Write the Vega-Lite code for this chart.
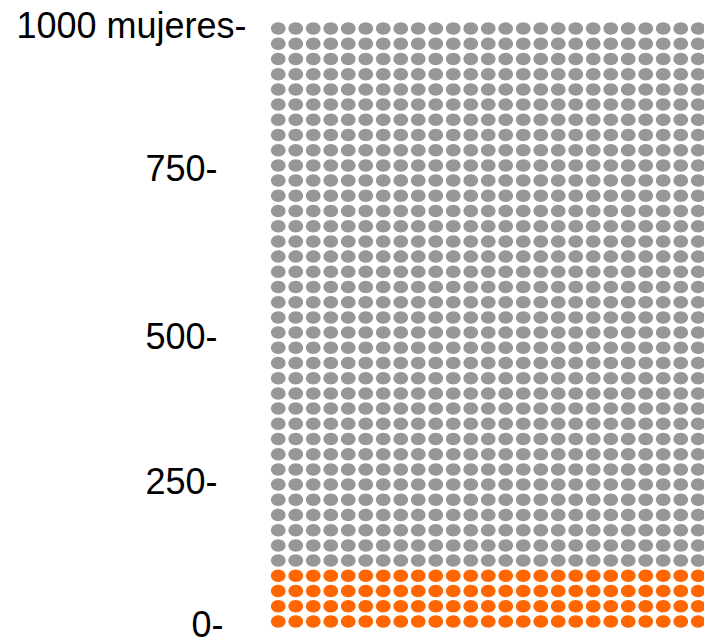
{
  "$schema": "https://vega.github.io/schema/vega-lite/v6.json",
  "autosize": "none",
  "padding": {"left": 269.5, "top": 21, "right": 0, "bottom": 10},
  "width": 434.5,
  "height": 608,
  "background": "white",
  "config": {"view": {"stroke": null}},
  "data": {"values": [
{"c":1,"r":1,"g":"si"},{"c":2,"r":1,"g":"si"},{"c":3,"r":1,"g":"si"},{"c":4,"r":1,"g":"si"},{"c":5,"r":1,"g":"si"},{"c":6,"r":1,"g":"si"},{"c":7,"r":1,"g":"si"},{"c":8,"r":1,"g":"si"},{"c":9,"r":1,"g":"si"},{"c":10,"r":1,"g":"si"},{"c":11,"r":1,"g":"si"},{"c":12,"r":1,"g":"si"},{"c":13,"r":1,"g":"si"},{"c":14,"r":1,"g":"si"},{"c":15,"r":1,"g":"si"},{"c":16,"r":1,"g":"si"},{"c":17,"r":1,"g":"si"},{"c":18,"r":1,"g":"si"},{"c":19,"r":1,"g":"si"},{"c":20,"r":1,"g":"si"},{"c":21,"r":1,"g":"si"},{"c":22,"r":1,"g":"si"},{"c":23,"r":1,"g":"si"},{"c":24,"r":1,"g":"si"},{"c":25,"r":1,"g":"si"},
{"c":1,"r":2,"g":"si"},{"c":2,"r":2,"g":"si"},{"c":3,"r":2,"g":"si"},{"c":4,"r":2,"g":"si"},{"c":5,"r":2,"g":"si"},{"c":6,"r":2,"g":"si"},{"c":7,"r":2,"g":"si"},{"c":8,"r":2,"g":"si"},{"c":9,"r":2,"g":"si"},{"c":10,"r":2,"g":"si"},{"c":11,"r":2,"g":"si"},{"c":12,"r":2,"g":"si"},{"c":13,"r":2,"g":"si"},{"c":14,"r":2,"g":"si"},{"c":15,"r":2,"g":"si"},{"c":16,"r":2,"g":"si"},{"c":17,"r":2,"g":"si"},{"c":18,"r":2,"g":"si"},{"c":19,"r":2,"g":"si"},{"c":20,"r":2,"g":"si"},{"c":21,"r":2,"g":"si"},{"c":22,"r":2,"g":"si"},{"c":23,"r":2,"g":"si"},{"c":24,"r":2,"g":"si"},{"c":25,"r":2,"g":"si"},
{"c":1,"r":3,"g":"si"},{"c":2,"r":3,"g":"si"},{"c":3,"r":3,"g":"si"},{"c":4,"r":3,"g":"si"},{"c":5,"r":3,"g":"si"},{"c":6,"r":3,"g":"si"},{"c":7,"r":3,"g":"si"},{"c":8,"r":3,"g":"si"},{"c":9,"r":3,"g":"si"},{"c":10,"r":3,"g":"si"},{"c":11,"r":3,"g":"si"},{"c":12,"r":3,"g":"si"},{"c":13,"r":3,"g":"si"},{"c":14,"r":3,"g":"si"},{"c":15,"r":3,"g":"si"},{"c":16,"r":3,"g":"si"},{"c":17,"r":3,"g":"si"},{"c":18,"r":3,"g":"si"},{"c":19,"r":3,"g":"si"},{"c":20,"r":3,"g":"si"},{"c":21,"r":3,"g":"si"},{"c":22,"r":3,"g":"si"},{"c":23,"r":3,"g":"si"},{"c":24,"r":3,"g":"si"},{"c":25,"r":3,"g":"si"},
{"c":1,"r":4,"g":"si"},{"c":2,"r":4,"g":"si"},{"c":3,"r":4,"g":"si"},{"c":4,"r":4,"g":"si"},{"c":5,"r":4,"g":"si"},{"c":6,"r":4,"g":"si"},{"c":7,"r":4,"g":"si"},{"c":8,"r":4,"g":"si"},{"c":9,"r":4,"g":"si"},{"c":10,"r":4,"g":"si"},{"c":11,"r":4,"g":"si"},{"c":12,"r":4,"g":"si"},{"c":13,"r":4,"g":"si"},{"c":14,"r":4,"g":"si"},{"c":15,"r":4,"g":"si"},{"c":16,"r":4,"g":"si"},{"c":17,"r":4,"g":"si"},{"c":18,"r":4,"g":"si"},{"c":19,"r":4,"g":"si"},{"c":20,"r":4,"g":"si"},{"c":21,"r":4,"g":"si"},{"c":22,"r":4,"g":"si"},{"c":23,"r":4,"g":"si"},{"c":24,"r":4,"g":"si"},{"c":25,"r":4,"g":"si"},
{"c":1,"r":5,"g":"no"},{"c":2,"r":5,"g":"no"},{"c":3,"r":5,"g":"no"},{"c":4,"r":5,"g":"no"},{"c":5,"r":5,"g":"no"},{"c":6,"r":5,"g":"no"},{"c":7,"r":5,"g":"no"},{"c":8,"r":5,"g":"no"},{"c":9,"r":5,"g":"no"},{"c":10,"r":5,"g":"no"},{"c":11,"r":5,"g":"no"},{"c":12,"r":5,"g":"no"},{"c":13,"r":5,"g":"no"},{"c":14,"r":5,"g":"no"},{"c":15,"r":5,"g":"no"},{"c":16,"r":5,"g":"no"},{"c":17,"r":5,"g":"no"},{"c":18,"r":5,"g":"no"},{"c":19,"r":5,"g":"no"},{"c":20,"r":5,"g":"no"},{"c":21,"r":5,"g":"no"},{"c":22,"r":5,"g":"no"},{"c":23,"r":5,"g":"no"},{"c":24,"r":5,"g":"no"},{"c":25,"r":5,"g":"no"},
{"c":1,"r":6,"g":"no"},{"c":2,"r":6,"g":"no"},{"c":3,"r":6,"g":"no"},{"c":4,"r":6,"g":"no"},{"c":5,"r":6,"g":"no"},{"c":6,"r":6,"g":"no"},{"c":7,"r":6,"g":"no"},{"c":8,"r":6,"g":"no"},{"c":9,"r":6,"g":"no"},{"c":10,"r":6,"g":"no"},{"c":11,"r":6,"g":"no"},{"c":12,"r":6,"g":"no"},{"c":13,"r":6,"g":"no"},{"c":14,"r":6,"g":"no"},{"c":15,"r":6,"g":"no"},{"c":16,"r":6,"g":"no"},{"c":17,"r":6,"g":"no"},{"c":18,"r":6,"g":"no"},{"c":19,"r":6,"g":"no"},{"c":20,"r":6,"g":"no"},{"c":21,"r":6,"g":"no"},{"c":22,"r":6,"g":"no"},{"c":23,"r":6,"g":"no"},{"c":24,"r":6,"g":"no"},{"c":25,"r":6,"g":"no"},
{"c":1,"r":7,"g":"no"},{"c":2,"r":7,"g":"no"},{"c":3,"r":7,"g":"no"},{"c":4,"r":7,"g":"no"},{"c":5,"r":7,"g":"no"},{"c":6,"r":7,"g":"no"},{"c":7,"r":7,"g":"no"},{"c":8,"r":7,"g":"no"},{"c":9,"r":7,"g":"no"},{"c":10,"r":7,"g":"no"},{"c":11,"r":7,"g":"no"},{"c":12,"r":7,"g":"no"},{"c":13,"r":7,"g":"no"},{"c":14,"r":7,"g":"no"},{"c":15,"r":7,"g":"no"},{"c":16,"r":7,"g":"no"},{"c":17,"r":7,"g":"no"},{"c":18,"r":7,"g":"no"},{"c":19,"r":7,"g":"no"},{"c":20,"r":7,"g":"no"},{"c":21,"r":7,"g":"no"},{"c":22,"r":7,"g":"no"},{"c":23,"r":7,"g":"no"},{"c":24,"r":7,"g":"no"},{"c":25,"r":7,"g":"no"},
{"c":1,"r":8,"g":"no"},{"c":2,"r":8,"g":"no"},{"c":3,"r":8,"g":"no"},{"c":4,"r":8,"g":"no"},{"c":5,"r":8,"g":"no"},{"c":6,"r":8,"g":"no"},{"c":7,"r":8,"g":"no"},{"c":8,"r":8,"g":"no"},{"c":9,"r":8,"g":"no"},{"c":10,"r":8,"g":"no"},{"c":11,"r":8,"g":"no"},{"c":12,"r":8,"g":"no"},{"c":13,"r":8,"g":"no"},{"c":14,"r":8,"g":"no"},{"c":15,"r":8,"g":"no"},{"c":16,"r":8,"g":"no"},{"c":17,"r":8,"g":"no"},{"c":18,"r":8,"g":"no"},{"c":19,"r":8,"g":"no"},{"c":20,"r":8,"g":"no"},{"c":21,"r":8,"g":"no"},{"c":22,"r":8,"g":"no"},{"c":23,"r":8,"g":"no"},{"c":24,"r":8,"g":"no"},{"c":25,"r":8,"g":"no"},
{"c":1,"r":9,"g":"no"},{"c":2,"r":9,"g":"no"},{"c":3,"r":9,"g":"no"},{"c":4,"r":9,"g":"no"},{"c":5,"r":9,"g":"no"},{"c":6,"r":9,"g":"no"},{"c":7,"r":9,"g":"no"},{"c":8,"r":9,"g":"no"},{"c":9,"r":9,"g":"no"},{"c":10,"r":9,"g":"no"},{"c":11,"r":9,"g":"no"},{"c":12,"r":9,"g":"no"},{"c":13,"r":9,"g":"no"},{"c":14,"r":9,"g":"no"},{"c":15,"r":9,"g":"no"},{"c":16,"r":9,"g":"no"},{"c":17,"r":9,"g":"no"},{"c":18,"r":9,"g":"no"},{"c":19,"r":9,"g":"no"},{"c":20,"r":9,"g":"no"},{"c":21,"r":9,"g":"no"},{"c":22,"r":9,"g":"no"},{"c":23,"r":9,"g":"no"},{"c":24,"r":9,"g":"no"},{"c":25,"r":9,"g":"no"},
{"c":1,"r":10,"g":"no"},{"c":2,"r":10,"g":"no"},{"c":3,"r":10,"g":"no"},{"c":4,"r":10,"g":"no"},{"c":5,"r":10,"g":"no"},{"c":6,"r":10,"g":"no"},{"c":7,"r":10,"g":"no"},{"c":8,"r":10,"g":"no"},{"c":9,"r":10,"g":"no"},{"c":10,"r":10,"g":"no"},{"c":11,"r":10,"g":"no"},{"c":12,"r":10,"g":"no"},{"c":13,"r":10,"g":"no"},{"c":14,"r":10,"g":"no"},{"c":15,"r":10,"g":"no"},{"c":16,"r":10,"g":"no"},{"c":17,"r":10,"g":"no"},{"c":18,"r":10,"g":"no"},{"c":19,"r":10,"g":"no"},{"c":20,"r":10,"g":"no"},{"c":21,"r":10,"g":"no"},{"c":22,"r":10,"g":"no"},{"c":23,"r":10,"g":"no"},{"c":24,"r":10,"g":"no"},{"c":25,"r":10,"g":"no"},
{"c":1,"r":11,"g":"no"},{"c":2,"r":11,"g":"no"},{"c":3,"r":11,"g":"no"},{"c":4,"r":11,"g":"no"},{"c":5,"r":11,"g":"no"},{"c":6,"r":11,"g":"no"},{"c":7,"r":11,"g":"no"},{"c":8,"r":11,"g":"no"},{"c":9,"r":11,"g":"no"},{"c":10,"r":11,"g":"no"},{"c":11,"r":11,"g":"no"},{"c":12,"r":11,"g":"no"},{"c":13,"r":11,"g":"no"},{"c":14,"r":11,"g":"no"},{"c":15,"r":11,"g":"no"},{"c":16,"r":11,"g":"no"},{"c":17,"r":11,"g":"no"},{"c":18,"r":11,"g":"no"},{"c":19,"r":11,"g":"no"},{"c":20,"r":11,"g":"no"},{"c":21,"r":11,"g":"no"},{"c":22,"r":11,"g":"no"},{"c":23,"r":11,"g":"no"},{"c":24,"r":11,"g":"no"},{"c":25,"r":11,"g":"no"},
{"c":1,"r":12,"g":"no"},{"c":2,"r":12,"g":"no"},{"c":3,"r":12,"g":"no"},{"c":4,"r":12,"g":"no"},{"c":5,"r":12,"g":"no"},{"c":6,"r":12,"g":"no"},{"c":7,"r":12,"g":"no"},{"c":8,"r":12,"g":"no"},{"c":9,"r":12,"g":"no"},{"c":10,"r":12,"g":"no"},{"c":11,"r":12,"g":"no"},{"c":12,"r":12,"g":"no"},{"c":13,"r":12,"g":"no"},{"c":14,"r":12,"g":"no"},{"c":15,"r":12,"g":"no"},{"c":16,"r":12,"g":"no"},{"c":17,"r":12,"g":"no"},{"c":18,"r":12,"g":"no"},{"c":19,"r":12,"g":"no"},{"c":20,"r":12,"g":"no"},{"c":21,"r":12,"g":"no"},{"c":22,"r":12,"g":"no"},{"c":23,"r":12,"g":"no"},{"c":24,"r":12,"g":"no"},{"c":25,"r":12,"g":"no"},
{"c":1,"r":13,"g":"no"},{"c":2,"r":13,"g":"no"},{"c":3,"r":13,"g":"no"},{"c":4,"r":13,"g":"no"},{"c":5,"r":13,"g":"no"},{"c":6,"r":13,"g":"no"},{"c":7,"r":13,"g":"no"},{"c":8,"r":13,"g":"no"},{"c":9,"r":13,"g":"no"},{"c":10,"r":13,"g":"no"},{"c":11,"r":13,"g":"no"},{"c":12,"r":13,"g":"no"},{"c":13,"r":13,"g":"no"},{"c":14,"r":13,"g":"no"},{"c":15,"r":13,"g":"no"},{"c":16,"r":13,"g":"no"},{"c":17,"r":13,"g":"no"},{"c":18,"r":13,"g":"no"},{"c":19,"r":13,"g":"no"},{"c":20,"r":13,"g":"no"},{"c":21,"r":13,"g":"no"},{"c":22,"r":13,"g":"no"},{"c":23,"r":13,"g":"no"},{"c":24,"r":13,"g":"no"},{"c":25,"r":13,"g":"no"},
{"c":1,"r":14,"g":"no"},{"c":2,"r":14,"g":"no"},{"c":3,"r":14,"g":"no"},{"c":4,"r":14,"g":"no"},{"c":5,"r":14,"g":"no"},{"c":6,"r":14,"g":"no"},{"c":7,"r":14,"g":"no"},{"c":8,"r":14,"g":"no"},{"c":9,"r":14,"g":"no"},{"c":10,"r":14,"g":"no"},{"c":11,"r":14,"g":"no"},{"c":12,"r":14,"g":"no"},{"c":13,"r":14,"g":"no"},{"c":14,"r":14,"g":"no"},{"c":15,"r":14,"g":"no"},{"c":16,"r":14,"g":"no"},{"c":17,"r":14,"g":"no"},{"c":18,"r":14,"g":"no"},{"c":19,"r":14,"g":"no"},{"c":20,"r":14,"g":"no"},{"c":21,"r":14,"g":"no"},{"c":22,"r":14,"g":"no"},{"c":23,"r":14,"g":"no"},{"c":24,"r":14,"g":"no"},{"c":25,"r":14,"g":"no"},
{"c":1,"r":15,"g":"no"},{"c":2,"r":15,"g":"no"},{"c":3,"r":15,"g":"no"},{"c":4,"r":15,"g":"no"},{"c":5,"r":15,"g":"no"},{"c":6,"r":15,"g":"no"},{"c":7,"r":15,"g":"no"},{"c":8,"r":15,"g":"no"},{"c":9,"r":15,"g":"no"},{"c":10,"r":15,"g":"no"},{"c":11,"r":15,"g":"no"},{"c":12,"r":15,"g":"no"},{"c":13,"r":15,"g":"no"},{"c":14,"r":15,"g":"no"},{"c":15,"r":15,"g":"no"},{"c":16,"r":15,"g":"no"},{"c":17,"r":15,"g":"no"},{"c":18,"r":15,"g":"no"},{"c":19,"r":15,"g":"no"},{"c":20,"r":15,"g":"no"},{"c":21,"r":15,"g":"no"},{"c":22,"r":15,"g":"no"},{"c":23,"r":15,"g":"no"},{"c":24,"r":15,"g":"no"},{"c":25,"r":15,"g":"no"},
{"c":1,"r":16,"g":"no"},{"c":2,"r":16,"g":"no"},{"c":3,"r":16,"g":"no"},{"c":4,"r":16,"g":"no"},{"c":5,"r":16,"g":"no"},{"c":6,"r":16,"g":"no"},{"c":7,"r":16,"g":"no"},{"c":8,"r":16,"g":"no"},{"c":9,"r":16,"g":"no"},{"c":10,"r":16,"g":"no"},{"c":11,"r":16,"g":"no"},{"c":12,"r":16,"g":"no"},{"c":13,"r":16,"g":"no"},{"c":14,"r":16,"g":"no"},{"c":15,"r":16,"g":"no"},{"c":16,"r":16,"g":"no"},{"c":17,"r":16,"g":"no"},{"c":18,"r":16,"g":"no"},{"c":19,"r":16,"g":"no"},{"c":20,"r":16,"g":"no"},{"c":21,"r":16,"g":"no"},{"c":22,"r":16,"g":"no"},{"c":23,"r":16,"g":"no"},{"c":24,"r":16,"g":"no"},{"c":25,"r":16,"g":"no"},
{"c":1,"r":17,"g":"no"},{"c":2,"r":17,"g":"no"},{"c":3,"r":17,"g":"no"},{"c":4,"r":17,"g":"no"},{"c":5,"r":17,"g":"no"},{"c":6,"r":17,"g":"no"},{"c":7,"r":17,"g":"no"},{"c":8,"r":17,"g":"no"},{"c":9,"r":17,"g":"no"},{"c":10,"r":17,"g":"no"},{"c":11,"r":17,"g":"no"},{"c":12,"r":17,"g":"no"},{"c":13,"r":17,"g":"no"},{"c":14,"r":17,"g":"no"},{"c":15,"r":17,"g":"no"},{"c":16,"r":17,"g":"no"},{"c":17,"r":17,"g":"no"},{"c":18,"r":17,"g":"no"},{"c":19,"r":17,"g":"no"},{"c":20,"r":17,"g":"no"},{"c":21,"r":17,"g":"no"},{"c":22,"r":17,"g":"no"},{"c":23,"r":17,"g":"no"},{"c":24,"r":17,"g":"no"},{"c":25,"r":17,"g":"no"},
{"c":1,"r":18,"g":"no"},{"c":2,"r":18,"g":"no"},{"c":3,"r":18,"g":"no"},{"c":4,"r":18,"g":"no"},{"c":5,"r":18,"g":"no"},{"c":6,"r":18,"g":"no"},{"c":7,"r":18,"g":"no"},{"c":8,"r":18,"g":"no"},{"c":9,"r":18,"g":"no"},{"c":10,"r":18,"g":"no"},{"c":11,"r":18,"g":"no"},{"c":12,"r":18,"g":"no"},{"c":13,"r":18,"g":"no"},{"c":14,"r":18,"g":"no"},{"c":15,"r":18,"g":"no"},{"c":16,"r":18,"g":"no"},{"c":17,"r":18,"g":"no"},{"c":18,"r":18,"g":"no"},{"c":19,"r":18,"g":"no"},{"c":20,"r":18,"g":"no"},{"c":21,"r":18,"g":"no"},{"c":22,"r":18,"g":"no"},{"c":23,"r":18,"g":"no"},{"c":24,"r":18,"g":"no"},{"c":25,"r":18,"g":"no"},
{"c":1,"r":19,"g":"no"},{"c":2,"r":19,"g":"no"},{"c":3,"r":19,"g":"no"},{"c":4,"r":19,"g":"no"},{"c":5,"r":19,"g":"no"},{"c":6,"r":19,"g":"no"},{"c":7,"r":19,"g":"no"},{"c":8,"r":19,"g":"no"},{"c":9,"r":19,"g":"no"},{"c":10,"r":19,"g":"no"},{"c":11,"r":19,"g":"no"},{"c":12,"r":19,"g":"no"},{"c":13,"r":19,"g":"no"},{"c":14,"r":19,"g":"no"},{"c":15,"r":19,"g":"no"},{"c":16,"r":19,"g":"no"},{"c":17,"r":19,"g":"no"},{"c":18,"r":19,"g":"no"},{"c":19,"r":19,"g":"no"},{"c":20,"r":19,"g":"no"},{"c":21,"r":19,"g":"no"},{"c":22,"r":19,"g":"no"},{"c":23,"r":19,"g":"no"},{"c":24,"r":19,"g":"no"},{"c":25,"r":19,"g":"no"},
{"c":1,"r":20,"g":"no"},{"c":2,"r":20,"g":"no"},{"c":3,"r":20,"g":"no"},{"c":4,"r":20,"g":"no"},{"c":5,"r":20,"g":"no"},{"c":6,"r":20,"g":"no"},{"c":7,"r":20,"g":"no"},{"c":8,"r":20,"g":"no"},{"c":9,"r":20,"g":"no"},{"c":10,"r":20,"g":"no"},{"c":11,"r":20,"g":"no"},{"c":12,"r":20,"g":"no"},{"c":13,"r":20,"g":"no"},{"c":14,"r":20,"g":"no"},{"c":15,"r":20,"g":"no"},{"c":16,"r":20,"g":"no"},{"c":17,"r":20,"g":"no"},{"c":18,"r":20,"g":"no"},{"c":19,"r":20,"g":"no"},{"c":20,"r":20,"g":"no"},{"c":21,"r":20,"g":"no"},{"c":22,"r":20,"g":"no"},{"c":23,"r":20,"g":"no"},{"c":24,"r":20,"g":"no"},{"c":25,"r":20,"g":"no"},
{"c":1,"r":21,"g":"no"},{"c":2,"r":21,"g":"no"},{"c":3,"r":21,"g":"no"},{"c":4,"r":21,"g":"no"},{"c":5,"r":21,"g":"no"},{"c":6,"r":21,"g":"no"},{"c":7,"r":21,"g":"no"},{"c":8,"r":21,"g":"no"},{"c":9,"r":21,"g":"no"},{"c":10,"r":21,"g":"no"},{"c":11,"r":21,"g":"no"},{"c":12,"r":21,"g":"no"},{"c":13,"r":21,"g":"no"},{"c":14,"r":21,"g":"no"},{"c":15,"r":21,"g":"no"},{"c":16,"r":21,"g":"no"},{"c":17,"r":21,"g":"no"},{"c":18,"r":21,"g":"no"},{"c":19,"r":21,"g":"no"},{"c":20,"r":21,"g":"no"},{"c":21,"r":21,"g":"no"},{"c":22,"r":21,"g":"no"},{"c":23,"r":21,"g":"no"},{"c":24,"r":21,"g":"no"},{"c":25,"r":21,"g":"no"},
{"c":1,"r":22,"g":"no"},{"c":2,"r":22,"g":"no"},{"c":3,"r":22,"g":"no"},{"c":4,"r":22,"g":"no"},{"c":5,"r":22,"g":"no"},{"c":6,"r":22,"g":"no"},{"c":7,"r":22,"g":"no"},{"c":8,"r":22,"g":"no"},{"c":9,"r":22,"g":"no"},{"c":10,"r":22,"g":"no"},{"c":11,"r":22,"g":"no"},{"c":12,"r":22,"g":"no"},{"c":13,"r":22,"g":"no"},{"c":14,"r":22,"g":"no"},{"c":15,"r":22,"g":"no"},{"c":16,"r":22,"g":"no"},{"c":17,"r":22,"g":"no"},{"c":18,"r":22,"g":"no"},{"c":19,"r":22,"g":"no"},{"c":20,"r":22,"g":"no"},{"c":21,"r":22,"g":"no"},{"c":22,"r":22,"g":"no"},{"c":23,"r":22,"g":"no"},{"c":24,"r":22,"g":"no"},{"c":25,"r":22,"g":"no"},
{"c":1,"r":23,"g":"no"},{"c":2,"r":23,"g":"no"},{"c":3,"r":23,"g":"no"},{"c":4,"r":23,"g":"no"},{"c":5,"r":23,"g":"no"},{"c":6,"r":23,"g":"no"},{"c":7,"r":23,"g":"no"},{"c":8,"r":23,"g":"no"},{"c":9,"r":23,"g":"no"},{"c":10,"r":23,"g":"no"},{"c":11,"r":23,"g":"no"},{"c":12,"r":23,"g":"no"},{"c":13,"r":23,"g":"no"},{"c":14,"r":23,"g":"no"},{"c":15,"r":23,"g":"no"},{"c":16,"r":23,"g":"no"},{"c":17,"r":23,"g":"no"},{"c":18,"r":23,"g":"no"},{"c":19,"r":23,"g":"no"},{"c":20,"r":23,"g":"no"},{"c":21,"r":23,"g":"no"},{"c":22,"r":23,"g":"no"},{"c":23,"r":23,"g":"no"},{"c":24,"r":23,"g":"no"},{"c":25,"r":23,"g":"no"},
{"c":1,"r":24,"g":"no"},{"c":2,"r":24,"g":"no"},{"c":3,"r":24,"g":"no"},{"c":4,"r":24,"g":"no"},{"c":5,"r":24,"g":"no"},{"c":6,"r":24,"g":"no"},{"c":7,"r":24,"g":"no"},{"c":8,"r":24,"g":"no"},{"c":9,"r":24,"g":"no"},{"c":10,"r":24,"g":"no"},{"c":11,"r":24,"g":"no"},{"c":12,"r":24,"g":"no"},{"c":13,"r":24,"g":"no"},{"c":14,"r":24,"g":"no"},{"c":15,"r":24,"g":"no"},{"c":16,"r":24,"g":"no"},{"c":17,"r":24,"g":"no"},{"c":18,"r":24,"g":"no"},{"c":19,"r":24,"g":"no"},{"c":20,"r":24,"g":"no"},{"c":21,"r":24,"g":"no"},{"c":22,"r":24,"g":"no"},{"c":23,"r":24,"g":"no"},{"c":24,"r":24,"g":"no"},{"c":25,"r":24,"g":"no"},
{"c":1,"r":25,"g":"no"},{"c":2,"r":25,"g":"no"},{"c":3,"r":25,"g":"no"},{"c":4,"r":25,"g":"no"},{"c":5,"r":25,"g":"no"},{"c":6,"r":25,"g":"no"},{"c":7,"r":25,"g":"no"},{"c":8,"r":25,"g":"no"},{"c":9,"r":25,"g":"no"},{"c":10,"r":25,"g":"no"},{"c":11,"r":25,"g":"no"},{"c":12,"r":25,"g":"no"},{"c":13,"r":25,"g":"no"},{"c":14,"r":25,"g":"no"},{"c":15,"r":25,"g":"no"},{"c":16,"r":25,"g":"no"},{"c":17,"r":25,"g":"no"},{"c":18,"r":25,"g":"no"},{"c":19,"r":25,"g":"no"},{"c":20,"r":25,"g":"no"},{"c":21,"r":25,"g":"no"},{"c":22,"r":25,"g":"no"},{"c":23,"r":25,"g":"no"},{"c":24,"r":25,"g":"no"},{"c":25,"r":25,"g":"no"},
{"c":1,"r":26,"g":"no"},{"c":2,"r":26,"g":"no"},{"c":3,"r":26,"g":"no"},{"c":4,"r":26,"g":"no"},{"c":5,"r":26,"g":"no"},{"c":6,"r":26,"g":"no"},{"c":7,"r":26,"g":"no"},{"c":8,"r":26,"g":"no"},{"c":9,"r":26,"g":"no"},{"c":10,"r":26,"g":"no"},{"c":11,"r":26,"g":"no"},{"c":12,"r":26,"g":"no"},{"c":13,"r":26,"g":"no"},{"c":14,"r":26,"g":"no"},{"c":15,"r":26,"g":"no"},{"c":16,"r":26,"g":"no"},{"c":17,"r":26,"g":"no"},{"c":18,"r":26,"g":"no"},{"c":19,"r":26,"g":"no"},{"c":20,"r":26,"g":"no"},{"c":21,"r":26,"g":"no"},{"c":22,"r":26,"g":"no"},{"c":23,"r":26,"g":"no"},{"c":24,"r":26,"g":"no"},{"c":25,"r":26,"g":"no"},
{"c":1,"r":27,"g":"no"},{"c":2,"r":27,"g":"no"},{"c":3,"r":27,"g":"no"},{"c":4,"r":27,"g":"no"},{"c":5,"r":27,"g":"no"},{"c":6,"r":27,"g":"no"},{"c":7,"r":27,"g":"no"},{"c":8,"r":27,"g":"no"},{"c":9,"r":27,"g":"no"},{"c":10,"r":27,"g":"no"},{"c":11,"r":27,"g":"no"},{"c":12,"r":27,"g":"no"},{"c":13,"r":27,"g":"no"},{"c":14,"r":27,"g":"no"},{"c":15,"r":27,"g":"no"},{"c":16,"r":27,"g":"no"},{"c":17,"r":27,"g":"no"},{"c":18,"r":27,"g":"no"},{"c":19,"r":27,"g":"no"},{"c":20,"r":27,"g":"no"},{"c":21,"r":27,"g":"no"},{"c":22,"r":27,"g":"no"},{"c":23,"r":27,"g":"no"},{"c":24,"r":27,"g":"no"},{"c":25,"r":27,"g":"no"},
{"c":1,"r":28,"g":"no"},{"c":2,"r":28,"g":"no"},{"c":3,"r":28,"g":"no"},{"c":4,"r":28,"g":"no"},{"c":5,"r":28,"g":"no"},{"c":6,"r":28,"g":"no"},{"c":7,"r":28,"g":"no"},{"c":8,"r":28,"g":"no"},{"c":9,"r":28,"g":"no"},{"c":10,"r":28,"g":"no"},{"c":11,"r":28,"g":"no"},{"c":12,"r":28,"g":"no"},{"c":13,"r":28,"g":"no"},{"c":14,"r":28,"g":"no"},{"c":15,"r":28,"g":"no"},{"c":16,"r":28,"g":"no"},{"c":17,"r":28,"g":"no"},{"c":18,"r":28,"g":"no"},{"c":19,"r":28,"g":"no"},{"c":20,"r":28,"g":"no"},{"c":21,"r":28,"g":"no"},{"c":22,"r":28,"g":"no"},{"c":23,"r":28,"g":"no"},{"c":24,"r":28,"g":"no"},{"c":25,"r":28,"g":"no"},
{"c":1,"r":29,"g":"no"},{"c":2,"r":29,"g":"no"},{"c":3,"r":29,"g":"no"},{"c":4,"r":29,"g":"no"},{"c":5,"r":29,"g":"no"},{"c":6,"r":29,"g":"no"},{"c":7,"r":29,"g":"no"},{"c":8,"r":29,"g":"no"},{"c":9,"r":29,"g":"no"},{"c":10,"r":29,"g":"no"},{"c":11,"r":29,"g":"no"},{"c":12,"r":29,"g":"no"},{"c":13,"r":29,"g":"no"},{"c":14,"r":29,"g":"no"},{"c":15,"r":29,"g":"no"},{"c":16,"r":29,"g":"no"},{"c":17,"r":29,"g":"no"},{"c":18,"r":29,"g":"no"},{"c":19,"r":29,"g":"no"},{"c":20,"r":29,"g":"no"},{"c":21,"r":29,"g":"no"},{"c":22,"r":29,"g":"no"},{"c":23,"r":29,"g":"no"},{"c":24,"r":29,"g":"no"},{"c":25,"r":29,"g":"no"},
{"c":1,"r":30,"g":"no"},{"c":2,"r":30,"g":"no"},{"c":3,"r":30,"g":"no"},{"c":4,"r":30,"g":"no"},{"c":5,"r":30,"g":"no"},{"c":6,"r":30,"g":"no"},{"c":7,"r":30,"g":"no"},{"c":8,"r":30,"g":"no"},{"c":9,"r":30,"g":"no"},{"c":10,"r":30,"g":"no"},{"c":11,"r":30,"g":"no"},{"c":12,"r":30,"g":"no"},{"c":13,"r":30,"g":"no"},{"c":14,"r":30,"g":"no"},{"c":15,"r":30,"g":"no"},{"c":16,"r":30,"g":"no"},{"c":17,"r":30,"g":"no"},{"c":18,"r":30,"g":"no"},{"c":19,"r":30,"g":"no"},{"c":20,"r":30,"g":"no"},{"c":21,"r":30,"g":"no"},{"c":22,"r":30,"g":"no"},{"c":23,"r":30,"g":"no"},{"c":24,"r":30,"g":"no"},{"c":25,"r":30,"g":"no"},
{"c":1,"r":31,"g":"no"},{"c":2,"r":31,"g":"no"},{"c":3,"r":31,"g":"no"},{"c":4,"r":31,"g":"no"},{"c":5,"r":31,"g":"no"},{"c":6,"r":31,"g":"no"},{"c":7,"r":31,"g":"no"},{"c":8,"r":31,"g":"no"},{"c":9,"r":31,"g":"no"},{"c":10,"r":31,"g":"no"},{"c":11,"r":31,"g":"no"},{"c":12,"r":31,"g":"no"},{"c":13,"r":31,"g":"no"},{"c":14,"r":31,"g":"no"},{"c":15,"r":31,"g":"no"},{"c":16,"r":31,"g":"no"},{"c":17,"r":31,"g":"no"},{"c":18,"r":31,"g":"no"},{"c":19,"r":31,"g":"no"},{"c":20,"r":31,"g":"no"},{"c":21,"r":31,"g":"no"},{"c":22,"r":31,"g":"no"},{"c":23,"r":31,"g":"no"},{"c":24,"r":31,"g":"no"},{"c":25,"r":31,"g":"no"},
{"c":1,"r":32,"g":"no"},{"c":2,"r":32,"g":"no"},{"c":3,"r":32,"g":"no"},{"c":4,"r":32,"g":"no"},{"c":5,"r":32,"g":"no"},{"c":6,"r":32,"g":"no"},{"c":7,"r":32,"g":"no"},{"c":8,"r":32,"g":"no"},{"c":9,"r":32,"g":"no"},{"c":10,"r":32,"g":"no"},{"c":11,"r":32,"g":"no"},{"c":12,"r":32,"g":"no"},{"c":13,"r":32,"g":"no"},{"c":14,"r":32,"g":"no"},{"c":15,"r":32,"g":"no"},{"c":16,"r":32,"g":"no"},{"c":17,"r":32,"g":"no"},{"c":18,"r":32,"g":"no"},{"c":19,"r":32,"g":"no"},{"c":20,"r":32,"g":"no"},{"c":21,"r":32,"g":"no"},{"c":22,"r":32,"g":"no"},{"c":23,"r":32,"g":"no"},{"c":24,"r":32,"g":"no"},{"c":25,"r":32,"g":"no"},
{"c":1,"r":33,"g":"no"},{"c":2,"r":33,"g":"no"},{"c":3,"r":33,"g":"no"},{"c":4,"r":33,"g":"no"},{"c":5,"r":33,"g":"no"},{"c":6,"r":33,"g":"no"},{"c":7,"r":33,"g":"no"},{"c":8,"r":33,"g":"no"},{"c":9,"r":33,"g":"no"},{"c":10,"r":33,"g":"no"},{"c":11,"r":33,"g":"no"},{"c":12,"r":33,"g":"no"},{"c":13,"r":33,"g":"no"},{"c":14,"r":33,"g":"no"},{"c":15,"r":33,"g":"no"},{"c":16,"r":33,"g":"no"},{"c":17,"r":33,"g":"no"},{"c":18,"r":33,"g":"no"},{"c":19,"r":33,"g":"no"},{"c":20,"r":33,"g":"no"},{"c":21,"r":33,"g":"no"},{"c":22,"r":33,"g":"no"},{"c":23,"r":33,"g":"no"},{"c":24,"r":33,"g":"no"},{"c":25,"r":33,"g":"no"},
{"c":1,"r":34,"g":"no"},{"c":2,"r":34,"g":"no"},{"c":3,"r":34,"g":"no"},{"c":4,"r":34,"g":"no"},{"c":5,"r":34,"g":"no"},{"c":6,"r":34,"g":"no"},{"c":7,"r":34,"g":"no"},{"c":8,"r":34,"g":"no"},{"c":9,"r":34,"g":"no"},{"c":10,"r":34,"g":"no"},{"c":11,"r":34,"g":"no"},{"c":12,"r":34,"g":"no"},{"c":13,"r":34,"g":"no"},{"c":14,"r":34,"g":"no"},{"c":15,"r":34,"g":"no"},{"c":16,"r":34,"g":"no"},{"c":17,"r":34,"g":"no"},{"c":18,"r":34,"g":"no"},{"c":19,"r":34,"g":"no"},{"c":20,"r":34,"g":"no"},{"c":21,"r":34,"g":"no"},{"c":22,"r":34,"g":"no"},{"c":23,"r":34,"g":"no"},{"c":24,"r":34,"g":"no"},{"c":25,"r":34,"g":"no"},
{"c":1,"r":35,"g":"no"},{"c":2,"r":35,"g":"no"},{"c":3,"r":35,"g":"no"},{"c":4,"r":35,"g":"no"},{"c":5,"r":35,"g":"no"},{"c":6,"r":35,"g":"no"},{"c":7,"r":35,"g":"no"},{"c":8,"r":35,"g":"no"},{"c":9,"r":35,"g":"no"},{"c":10,"r":35,"g":"no"},{"c":11,"r":35,"g":"no"},{"c":12,"r":35,"g":"no"},{"c":13,"r":35,"g":"no"},{"c":14,"r":35,"g":"no"},{"c":15,"r":35,"g":"no"},{"c":16,"r":35,"g":"no"},{"c":17,"r":35,"g":"no"},{"c":18,"r":35,"g":"no"},{"c":19,"r":35,"g":"no"},{"c":20,"r":35,"g":"no"},{"c":21,"r":35,"g":"no"},{"c":22,"r":35,"g":"no"},{"c":23,"r":35,"g":"no"},{"c":24,"r":35,"g":"no"},{"c":25,"r":35,"g":"no"},
{"c":1,"r":36,"g":"no"},{"c":2,"r":36,"g":"no"},{"c":3,"r":36,"g":"no"},{"c":4,"r":36,"g":"no"},{"c":5,"r":36,"g":"no"},{"c":6,"r":36,"g":"no"},{"c":7,"r":36,"g":"no"},{"c":8,"r":36,"g":"no"},{"c":9,"r":36,"g":"no"},{"c":10,"r":36,"g":"no"},{"c":11,"r":36,"g":"no"},{"c":12,"r":36,"g":"no"},{"c":13,"r":36,"g":"no"},{"c":14,"r":36,"g":"no"},{"c":15,"r":36,"g":"no"},{"c":16,"r":36,"g":"no"},{"c":17,"r":36,"g":"no"},{"c":18,"r":36,"g":"no"},{"c":19,"r":36,"g":"no"},{"c":20,"r":36,"g":"no"},{"c":21,"r":36,"g":"no"},{"c":22,"r":36,"g":"no"},{"c":23,"r":36,"g":"no"},{"c":24,"r":36,"g":"no"},{"c":25,"r":36,"g":"no"},
{"c":1,"r":37,"g":"no"},{"c":2,"r":37,"g":"no"},{"c":3,"r":37,"g":"no"},{"c":4,"r":37,"g":"no"},{"c":5,"r":37,"g":"no"},{"c":6,"r":37,"g":"no"},{"c":7,"r":37,"g":"no"},{"c":8,"r":37,"g":"no"},{"c":9,"r":37,"g":"no"},{"c":10,"r":37,"g":"no"},{"c":11,"r":37,"g":"no"},{"c":12,"r":37,"g":"no"},{"c":13,"r":37,"g":"no"},{"c":14,"r":37,"g":"no"},{"c":15,"r":37,"g":"no"},{"c":16,"r":37,"g":"no"},{"c":17,"r":37,"g":"no"},{"c":18,"r":37,"g":"no"},{"c":19,"r":37,"g":"no"},{"c":20,"r":37,"g":"no"},{"c":21,"r":37,"g":"no"},{"c":22,"r":37,"g":"no"},{"c":23,"r":37,"g":"no"},{"c":24,"r":37,"g":"no"},{"c":25,"r":37,"g":"no"},
{"c":1,"r":38,"g":"no"},{"c":2,"r":38,"g":"no"},{"c":3,"r":38,"g":"no"},{"c":4,"r":38,"g":"no"},{"c":5,"r":38,"g":"no"},{"c":6,"r":38,"g":"no"},{"c":7,"r":38,"g":"no"},{"c":8,"r":38,"g":"no"},{"c":9,"r":38,"g":"no"},{"c":10,"r":38,"g":"no"},{"c":11,"r":38,"g":"no"},{"c":12,"r":38,"g":"no"},{"c":13,"r":38,"g":"no"},{"c":14,"r":38,"g":"no"},{"c":15,"r":38,"g":"no"},{"c":16,"r":38,"g":"no"},{"c":17,"r":38,"g":"no"},{"c":18,"r":38,"g":"no"},{"c":19,"r":38,"g":"no"},{"c":20,"r":38,"g":"no"},{"c":21,"r":38,"g":"no"},{"c":22,"r":38,"g":"no"},{"c":23,"r":38,"g":"no"},{"c":24,"r":38,"g":"no"},{"c":25,"r":38,"g":"no"},
{"c":1,"r":39,"g":"no"},{"c":2,"r":39,"g":"no"},{"c":3,"r":39,"g":"no"},{"c":4,"r":39,"g":"no"},{"c":5,"r":39,"g":"no"},{"c":6,"r":39,"g":"no"},{"c":7,"r":39,"g":"no"},{"c":8,"r":39,"g":"no"},{"c":9,"r":39,"g":"no"},{"c":10,"r":39,"g":"no"},{"c":11,"r":39,"g":"no"},{"c":12,"r":39,"g":"no"},{"c":13,"r":39,"g":"no"},{"c":14,"r":39,"g":"no"},{"c":15,"r":39,"g":"no"},{"c":16,"r":39,"g":"no"},{"c":17,"r":39,"g":"no"},{"c":18,"r":39,"g":"no"},{"c":19,"r":39,"g":"no"},{"c":20,"r":39,"g":"no"},{"c":21,"r":39,"g":"no"},{"c":22,"r":39,"g":"no"},{"c":23,"r":39,"g":"no"},{"c":24,"r":39,"g":"no"},{"c":25,"r":39,"g":"no"},
{"c":1,"r":40,"g":"no"},{"c":2,"r":40,"g":"no"},{"c":3,"r":40,"g":"no"},{"c":4,"r":40,"g":"no"},{"c":5,"r":40,"g":"no"},{"c":6,"r":40,"g":"no"},{"c":7,"r":40,"g":"no"},{"c":8,"r":40,"g":"no"},{"c":9,"r":40,"g":"no"},{"c":10,"r":40,"g":"no"},{"c":11,"r":40,"g":"no"},{"c":12,"r":40,"g":"no"},{"c":13,"r":40,"g":"no"},{"c":14,"r":40,"g":"no"},{"c":15,"r":40,"g":"no"},{"c":16,"r":40,"g":"no"},{"c":17,"r":40,"g":"no"},{"c":18,"r":40,"g":"no"},{"c":19,"r":40,"g":"no"},{"c":20,"r":40,"g":"no"},{"c":21,"r":40,"g":"no"},{"c":22,"r":40,"g":"no"},{"c":23,"r":40,"g":"no"},{"c":24,"r":40,"g":"no"},{"c":25,"r":40,"g":"no"}
  ]},
  "mark": {
    "type": "point",
    "filled": true,
    "opacity": 1,
    "strokeWidth": 0,
    "size": 216,
    "shape": "M-1,0A1,0.85,0,1,1,1,0A1,0.85,0,1,1,-1,0Z"
  },
  "encoding": {
    "x": {
      "field": "c",
      "type": "quantitative",
      "scale": {"domain": [0.5, 25.33], "nice": false, "zero": false},
      "axis": null
    },
    "y": {
      "field": "r",
      "type": "quantitative",
      "scale": {"domain": [0.5, 40.5], "nice": false, "zero": false},
      "axis": {
        "title": null,
        "domain": false,
        "ticks": false,
        "grid": false,
        "values": [0.76, 10.17, 19.71, 30.7, 40.11],
        "labelExpr": "datum.value < 5 ? '0-' : datum.value < 15 ? '250-' : datum.value < 25 ? '500-' : datum.value < 35 ? '750-' : '1000 mujeres-'",
        "labelFont": "Liberation Sans",
        "labelFontSize": 36,
        "labelColor": "black",
        "labelPadding": {
          "condition": [
            {"test": "datum.value > 35", "value": 23.5},
            {"test": "datum.value < 5", "value": 46.5}
          ],
          "value": 52.5
        },
        "labelAlign": "right",
        "labelBaseline": "middle",
        "labelFlush": false,
        "labelOverlap": false,
        "labelBound": false,
        "labelLimit": 0
      }
    },
    "color": {
      "field": "g",
      "type": "nominal",
      "scale": {"domain": ["si", "no"], "range": ["#FF6600", "#979797"]},
      "legend": null
    }
  }
}
